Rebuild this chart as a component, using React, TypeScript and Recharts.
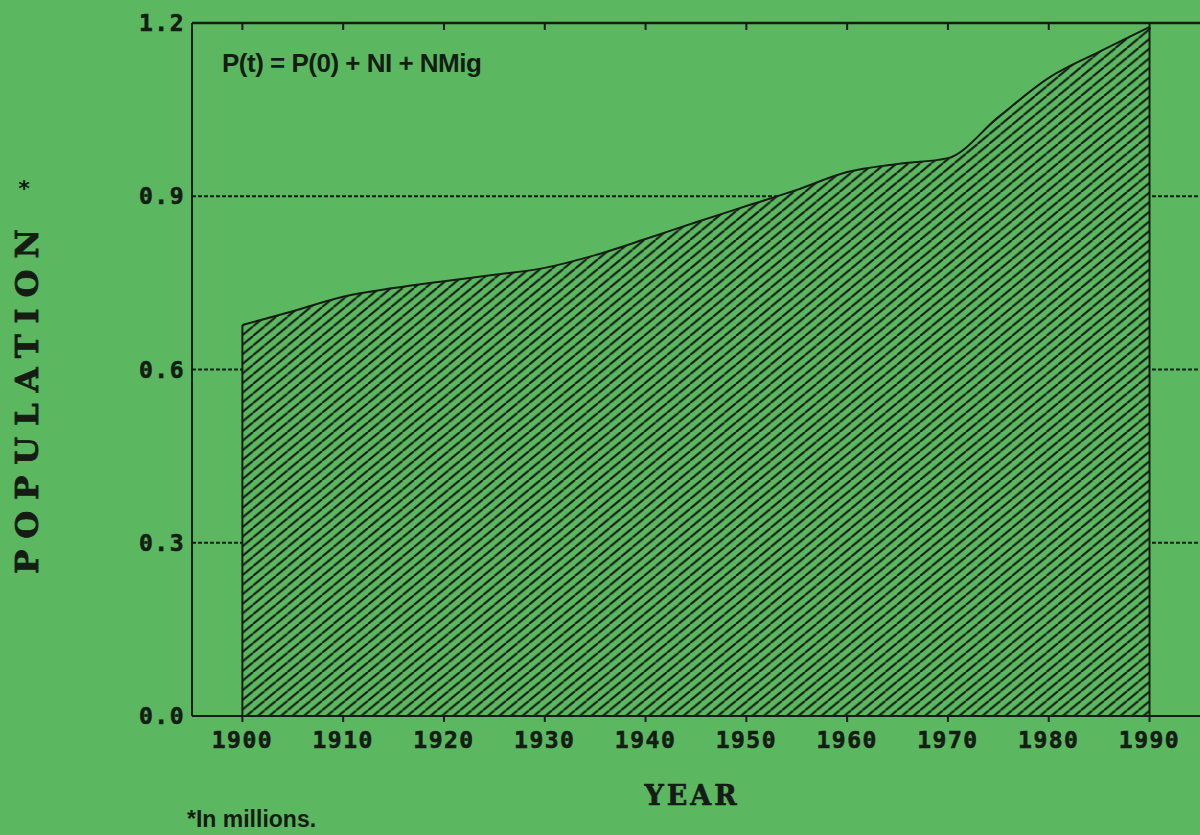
import React from 'react'
import { AreaChart, Area, XAxis, YAxis, CartesianGrid, ReferenceLine } from 'recharts'

const years = [1900, 1905, 1910, 1915, 1920, 1925, 1930, 1935, 1940, 1945, 1950, 1955, 1960, 1965, 1970, 1975, 1980, 1985, 1990]
const population = [0.677, 0.701, 0.726, 0.741, 0.753, 0.764, 0.776, 0.798, 0.826, 0.855, 0.883, 0.911, 0.942, 0.956, 0.966, 1.037, 1.105, 1.15, 1.193]
const xTicks = [1900, 1910, 1920, 1930, 1940, 1950, 1960, 1970, 1980, 1990]
const yTicks = [0, 0.3, 0.6, 0.9, 1.2]
const gridValues = [0.3, 0.6, 0.9]

const BG = '#5bb860'
const INK = '#141c14'
const tickFont = {
  fill: INK,
  stroke: INK,
  strokeWidth: 0.6,
  fontSize: 23,
  fontWeight: 700,
  fontFamily: '"DejaVu Sans Mono", monospace',
  letterSpacing: 1.5,
}

const data = years.map((year, i) => ({ year, pop: population[i] }))

export default function App() {
  const first = data[0]
  const last = data[data.length - 1]
  const top = yTicks[yTicks.length - 1]
  return (
    <div style={{ position: 'relative', width: 1200, height: 835, overflow: 'hidden', background: BG }}>
      <style>{'body{margin:0}'}</style>
      <AreaChart width={1215} height={835} data={data} margin={{ top: 23, right: 5, bottom: 0, left: 0 }}>
        <defs>
          <pattern id="hatch" patternUnits="userSpaceOnUse" width={11.5} height={9.6}>
            <rect width={11.5} height={9.6} fill={BG} />
            <path d="M-11.5,9.6 L0,0 M0,9.6 L11.5,0 M11.5,9.6 L23,0" stroke={INK} strokeWidth={2.1} />
          </pattern>
        </defs>
        <CartesianGrid vertical={false} horizontalValues={gridValues} stroke={INK} strokeWidth={2} strokeDasharray="4 2" />
        <XAxis
          dataKey="year"
          type="number"
          domain={[1895, 1996]}
          ticks={xTicks}
          allowDataOverflow
          height={119}
          tick={tickFont}
          tickSize={6}
          tickMargin={10}
          axisLine={{ stroke: INK, strokeWidth: 2 }}
          tickLine={{ stroke: INK, strokeWidth: 2 }}
        />
        <YAxis
          type="number"
          domain={[0, 1.2]}
          ticks={yTicks}
          width={192}
          tickFormatter={(v: number) => v.toFixed(1)}
          tick={tickFont}
          tickLine={false}
          tickMargin={1}
          axisLine={{ stroke: INK, strokeWidth: 2 }}
        />
        <Area
          type="monotone"
          dataKey="pop"
          stroke={INK}
          strokeWidth={2}
          fill="url(#hatch)"
          fillOpacity={1}
          baseValue={0}
          isAnimationActive={false}
        />
        <ReferenceLine y={top} stroke={INK} strokeWidth={2.5} />
        {xTicks.map((t) => (
          <ReferenceLine key={t} segment={[{ x: t, y: top }, { x: t, y: top - 0.012 }]} stroke={INK} strokeWidth={2} />
        ))}
        <ReferenceLine segment={[{ x: first.year, y: 0 }, { x: first.year, y: first.pop }]} stroke={INK} strokeWidth={2} />
        <ReferenceLine segment={[{ x: last.year, y: 0 }, { x: last.year, y: last.pop }]} stroke={INK} strokeWidth={2} />
      </AreaChart>
      <svg width={1200} height={835} style={{ position: 'absolute', left: 0, top: 0, pointerEvents: 'none' }}>
        <text
          x={222}
          y={72}
          fill={INK}
          fontSize={26}
          fontWeight={700}
          fontFamily='"Liberation Sans Narrow", "Liberation Sans", sans-serif'
          letterSpacing={-0.5}
        >
          P(t) = P(0) + NI + NMig
        </text>
        <text
          transform="translate(27,396) rotate(-90)"
          textAnchor="middle"
          dominantBaseline="central"
          fill={INK}
          stroke={INK}
          strokeWidth={0.8}
          fontSize={32}
          fontWeight={700}
          fontFamily='"DejaVu Serif", serif'
          letterSpacing={11}
        >
          POPULATION
        </text>
        <text x={24} y={196} textAnchor="middle" fill={INK} fontSize={22} fontWeight={700} fontFamily='"DejaVu Sans Mono", monospace'>
          *
        </text>
        <text
          x={692}
          y={795}
          textAnchor="middle"
          dominantBaseline="central"
          fill={INK}
          stroke={INK}
          strokeWidth={0.6}
          fontSize={27}
          fontWeight={700}
          fontFamily='"DejaVu Serif", serif'
          letterSpacing={3}
        >
          YEAR
        </text>
        <text
          x={187}
          y={827}
          fill={INK}
          fontSize={23}
          fontWeight={700}
          fontFamily='"Liberation Sans Narrow", "Liberation Sans", sans-serif'
        >
          *In millions.
        </text>
      </svg>
    </div>
  )
}
